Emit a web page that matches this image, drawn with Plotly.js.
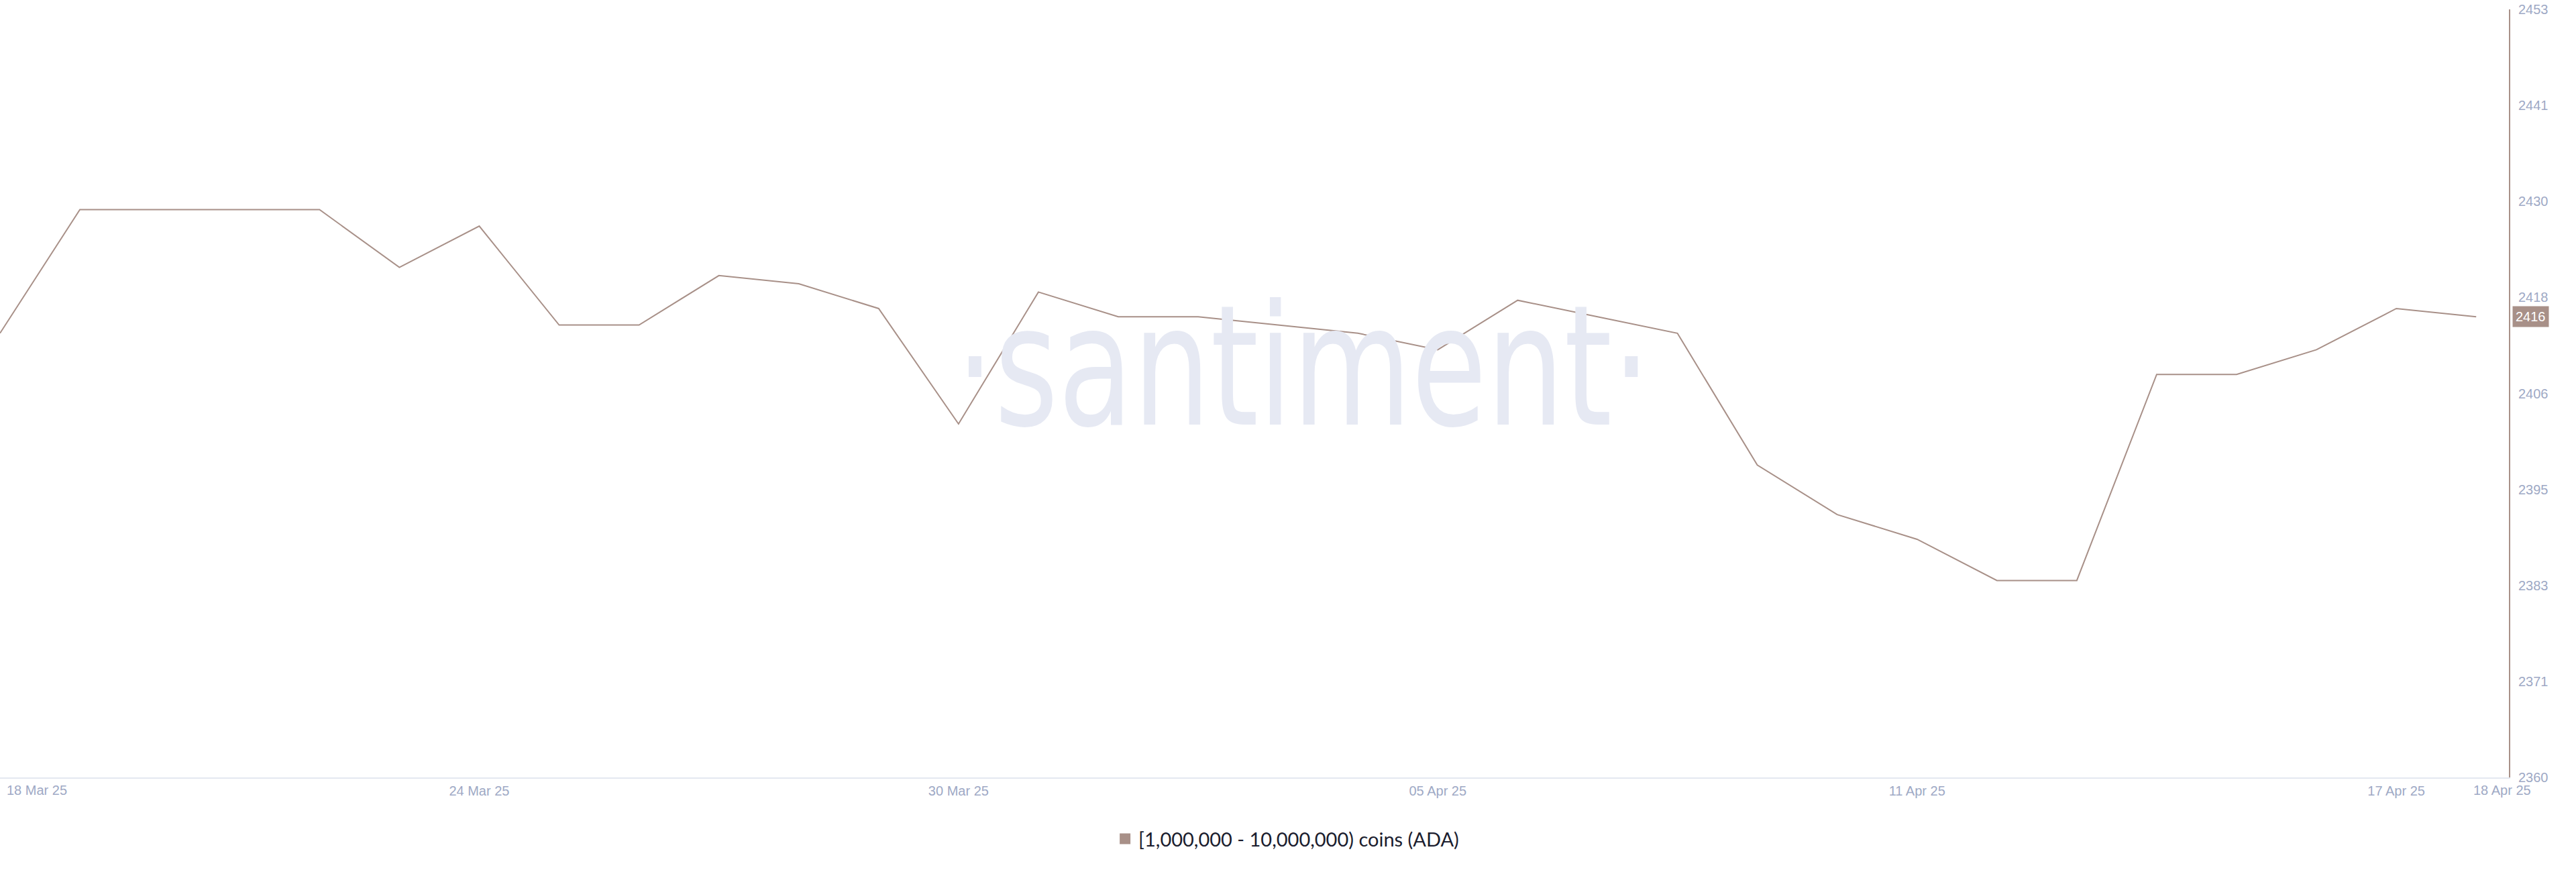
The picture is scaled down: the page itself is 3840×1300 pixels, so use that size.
<!DOCTYPE html>
<html>
<head>
<meta charset="utf-8">
<script src="https://cdn.plot.ly/plotly-3.0.1.min.js"></script>
<style>
  html, body { margin: 0; padding: 0; background: #ffffff; }
  #chart { width: 3840px; height: 1300px; }
</style>
</head>
<body>
<div id="chart"></div>
<script>
// ---- data ----
const dates = [
  "2025-03-18","2025-03-19","2025-03-20","2025-03-21","2025-03-22","2025-03-23","2025-03-24",
  "2025-03-25","2025-03-26","2025-03-27","2025-03-28","2025-03-29","2025-03-30","2025-03-31",
  "2025-04-01","2025-04-02","2025-04-03","2025-04-04","2025-04-05","2025-04-06","2025-04-07",
  "2025-04-08","2025-04-09","2025-04-10","2025-04-11","2025-04-12","2025-04-13","2025-04-14",
  "2025-04-15","2025-04-16","2025-04-17","2025-04-18"
];
const holders = [
  2414, 2429, 2429, 2429, 2429, 2422, 2427,
  2415, 2415, 2421, 2420, 2417, 2403, 2419,
  2416, 2416, 2415, 2414, 2412, 2418, 2416,
  2414, 2398, 2392, 2389, 2384, 2384, 2409,
  2409, 2412, 2417, 2416
];
const seriesName = "[1,000,000 - 10,000,000) coins (ADA)";
const xTickDates = ["2025-03-24","2025-03-30","2025-04-05","2025-04-11","2025-04-17"];
const xTickLabels = ["24 Mar 25","30 Mar 25","05 Apr 25","11 Apr 25","17 Apr 25"];
const xFirstLabel = "18 Mar 25";
const xLastLabel = "18 Apr 25";
const yTickLabels = ["2360","2371","2383","2395","2406","2418","2430","2441","2453"];
const yMin = 2360.1, yMax = 2453.3;
const watermark = "·santiment·";

// ---- styles ----
const lineColor = "#a89088";
const tickColor = "#9ea9c5";
const tickFont = { family: "Liberation Sans, Arial, sans-serif", size: 20, color: tickColor };

const yStep = (yMax - yMin) / (yTickLabels.length - 1);
const yTickVals = yTickLabels.map((_, i) => yMin + i * yStep);

const traces = [
  {
    x: dates, y: holders, type: "scatter", mode: "lines",
    line: { color: lineColor, width: 2 },
    showlegend: false, hoverinfo: "x+y"
  },
  {
    x: [null], y: [null], type: "scatter", mode: "markers",
    name: seriesName,
    marker: { symbol: "square", size: 17, color: lineColor },
    showlegend: true
  }
];

const lastVal = holders[holders.length - 1];

const layout = {
  width: 3840, height: 1300,
  paper_bgcolor: "#ffffff", plot_bgcolor: "#ffffff",
  margin: { l: 0, r: 100, t: 14, b: 141 },
  xaxis: {
    type: "date",
    range: ["2025-03-18 00:00", "2025-04-18 09:50"],
    tickmode: "array", tickvals: xTickDates, ticktext: xTickLabels,
    tickfont: tickFont,
    showgrid: false, zeroline: false,
    showline: true, linecolor: "#e4e8f0", linewidth: 2,
    ticks: "", ticklabelstandoff: 1
  },
  yaxis: {
    side: "right",
    range: [yMin, yMax],
    tickmode: "array", tickvals: yTickVals, ticktext: yTickLabels,
    tickfont: tickFont,
    showgrid: false, zeroline: false,
    showline: true, linecolor: lineColor, linewidth: 2,
    ticks: "", ticklabelstandoff: 8
  },
  legend: {
    orientation: "h", x: 0.513, xanchor: "center", y: -0.08, yanchor: "middle",
    font: { family: "Lato, Open Sans, sans-serif", size: 29, color: "#1b1d2e" },
    itemwidth: 30, bgcolor: "rgba(0,0,0,0)"
  },
  annotations: [
    {
      text: watermark, xref: "paper", yref: "paper",
      x: 0.5195, y: 0.535, xanchor: "center", yanchor: "middle",
      showarrow: false,
      font: { family: "DejaVu Sans Condensed, DejaVu Sans, sans-serif", size: 250, color: "#e6e9f3" }
    },
    {
      text: xFirstLabel, xref: "paper", yref: "paper",
      x: 0, y: 0, xanchor: "left", yanchor: "top", xshift: 8, yshift: -6,
      showarrow: false, font: tickFont
    },
    {
      text: xLastLabel, xref: "paper", yref: "paper",
      x: 1, y: 0, xanchor: "center", yanchor: "top", xshift: -10, yshift: -6,
      showarrow: false, font: tickFont
    },
    {
      text: String(lastVal), xref: "paper", yref: "y",
      x: 1, y: lastVal, xanchor: "left", yanchor: "middle", xshift: 5,
      showarrow: false, bgcolor: lineColor, borderpad: 4,
      font: { family: "Liberation Sans, Arial, sans-serif", size: 20, color: "#ffffff" }
    }
  ],
  hovermode: false
};

Plotly.newPlot("chart", traces, layout, { displayModeBar: false, staticPlot: true }).then(function () {
  try {
    // narrow the watermark horizontally to mimic the condensed logo type
    const t = document.querySelector('.annotation[data-index="0"] text');
    if (t) {
      const bb = t.getBBox();
      const cx = bb.x + bb.width / 2;
      const existing = t.getAttribute('transform') || '';
      t.setAttribute('transform', existing + ' translate(' + cx + ',0) scale(0.81,1) translate(' + (-cx) + ',0)');
    }
  } catch (e) {}
});
</script>
</body>
</html>
